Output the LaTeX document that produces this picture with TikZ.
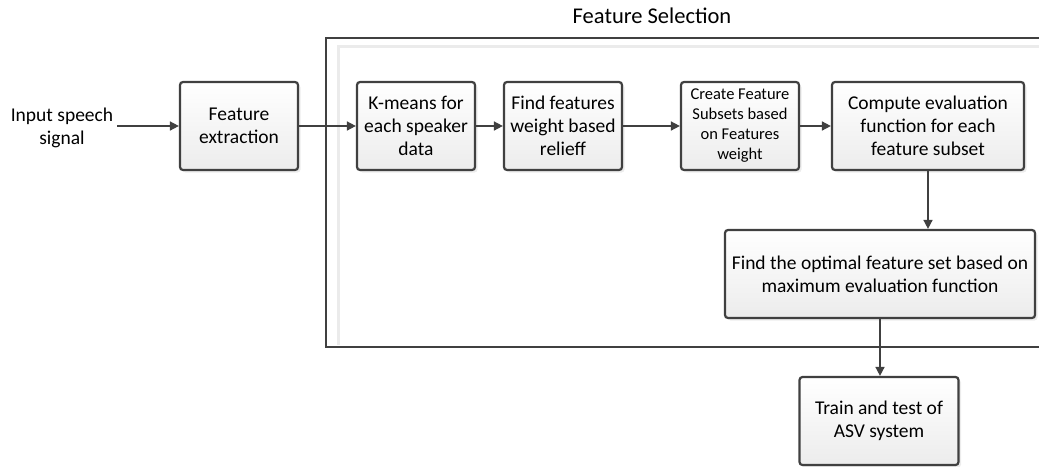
\documentclass[tikz,border=0pt]{standalone}
\usepackage{fontspec}
\setmainfont{Carlito}
\usetikzlibrary{arrows.meta,shadows}
\definecolor{edge}{HTML}{404040}
\definecolor{frameinner}{HTML}{EBEBEB}
\definecolor{boxbottom}{HTML}{ECECEC}
\tikzset{
  procbox/.style={draw=edge, line width=2.2pt, rounded corners=3pt,
    top color=white, bottom color=boxbottom, align=center, inner sep=0pt,
    minimum height=88pt, text=black,
    drop shadow={shadow xshift=2.5pt, shadow yshift=-2.5pt, fill=black!12, opacity=0.6},
    font=\fontsize{19.5}{23}\selectfont},
  smalltext/.style={font=\fontsize{16.5}{20}\selectfont},
  flow/.style={draw=edge, line width=1.6pt, -{Triangle[length=9pt,width=9pt]}},
  plain/.style={align=center, inner sep=4pt, font=\fontsize{19.5}{23}\selectfont}
}
\begin{document}
\begin{tikzpicture}[x=1pt,y=-1pt]
\useasboundingbox (0,0) rectangle (1039,466);
\clip (0,0) rectangle (1039,466);

% feature selection container
\draw[frameinner, line width=3pt] (1060,46) -- (338,46) -- (338,345);
\draw[edge, line width=2.4pt] (1060,38) -- (326,38) -- (326,347) -- (1060,347);
\node[plain, font=\fontsize{22.5}{26}\selectfont] (title) at (652,16) {Feature Selection};

% input and processing steps
\node[plain] (input) at (62,128) {Input speech\\signal};
\node[procbox, minimum width=118pt] (fe) at (239,126) {Feature\\extraction};
\node[procbox, minimum width=118pt] (km) at (416,126) {K-means for\\each speaker\\data};
\node[procbox, minimum width=118pt] (ff) at (563,126) {Find features\\weight based\\relieff};
\node[procbox, smalltext, minimum width=118pt] (cf) at (740,126) {Create Feature\\Subsets based\\on Features\\weight};
\node[procbox, minimum width=192pt] (ce) at (928,126) {Compute evaluation\\function for each\\feature subset};
\node[procbox, minimum width=310pt] (fo) at (880,274) {Find the optimal feature set based on\\maximum evaluation function};
\node[procbox, minimum width=159pt] (tt) at (879,421) {Train and test of\\ASV system};

% connectors
\draw[flow] (input.east |- fe.west) -- (fe.west);
\draw[flow] (fe.east) -- (km.west);
\draw[flow] (km.east) -- (ff.west);
\draw[flow] (ff.east) -- (cf.west);
\draw[flow] (cf.east) -- (ce.west);
\draw[flow] (ce.south) -- (ce.south |- fo.north);
\draw[flow] (fo.south) -- (fo.south |- tt.north);
\end{tikzpicture}
\end{document}
